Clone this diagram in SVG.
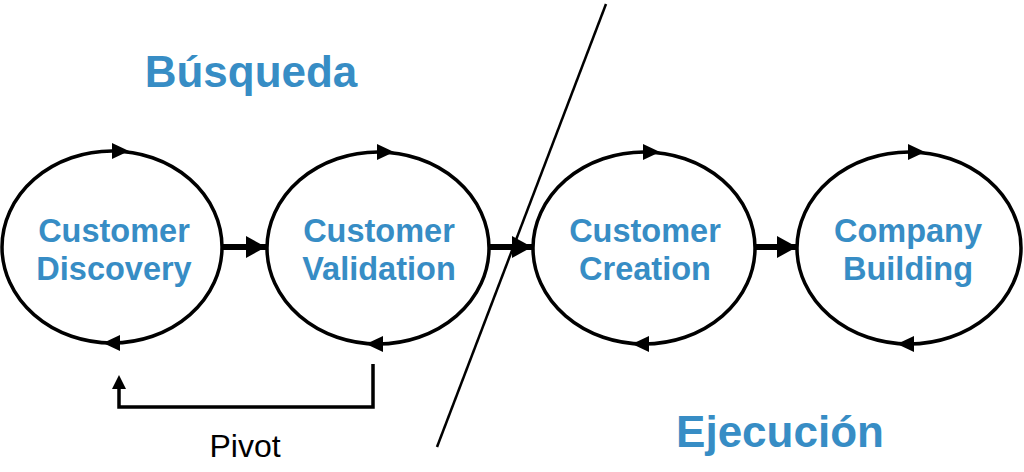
<svg xmlns="http://www.w3.org/2000/svg" xmlns:xlink="http://www.w3.org/1999/xlink" width="1024" height="472" viewBox="0 0 1024 472">
<style>
.node ellipse{fill:#fff;stroke:#000;stroke-width:3.5}
.lbl{font-family:"Liberation Sans",Arial,sans-serif;font-weight:bold;font-size:32.5px;fill:#378dc5;text-anchor:middle}
.title{font-family:"Liberation Sans",Arial,sans-serif;font-weight:bold;font-size:44px;fill:#378dc5;text-anchor:middle}
.conn{fill:none;stroke:#000}
</style>
<defs>
<polygon id="hr" points="0,0 -17,-8 -17,8" fill="#000"/>
<polygon id="hl" points="0,0 17,-8 17,8" fill="#000"/>
<marker id="big" markerUnits="userSpaceOnUse" markerWidth="22" markerHeight="24" refX="20" refY="12" orient="auto"><polygon points="0,1 20,12 0,23" fill="#000"/></marker>
</defs>
<rect width="1024" height="472" fill="#fff"/>
<g id="titles">
<text class="title" x="251" y="87">Búsqueda</text>
<text class="title" x="780" y="447">Ejecución</text>
</g>
<g id="connectors">
<line class="conn" x1="222" y1="247" x2="266" y2="247" stroke-width="6" marker-end="url(#big)"/>
<line class="conn" x1="489" y1="247" x2="532" y2="247" stroke-width="6" marker-end="url(#big)"/>
<line class="conn" x1="755" y1="247" x2="797" y2="247" stroke-width="6" marker-end="url(#big)"/>
<path class="conn" d="M373,364 V407 H119 V380" stroke-width="3.5"/>
<polygon points="119,375 112,389 126,389" fill="#000"/>
</g>
<g id="node-discovery" class="node">
<ellipse cx="112" cy="247" rx="110" ry="96"/>
<use xlink:href="#hr" x="129" y="151"/>
<use xlink:href="#hl" x="103" y="343"/>
<text class="lbl" x="114" y="242">Customer</text>
<text class="lbl" x="114" y="280">Discovery</text>
</g>
<g id="node-validation" class="node">
<ellipse cx="378" cy="248" rx="111" ry="96"/>
<use xlink:href="#hr" x="394" y="152"/>
<use xlink:href="#hl" x="366" y="344"/>
<text class="lbl" x="379" y="242">Customer</text>
<text class="lbl" x="379" y="280">Validation</text>
</g>
<g id="node-creation" class="node">
<ellipse cx="644" cy="248" rx="111" ry="96"/>
<use xlink:href="#hr" x="660" y="152"/>
<use xlink:href="#hl" x="632" y="344"/>
<text class="lbl" x="645" y="242">Customer</text>
<text class="lbl" x="645" y="280">Creation</text>
</g>
<g id="node-building" class="node">
<ellipse cx="909" cy="248" rx="112" ry="96"/>
<use xlink:href="#hr" x="925" y="152"/>
<use xlink:href="#hl" x="897" y="344"/>
<text class="lbl" x="908" y="242">Company</text>
<text class="lbl" x="908" y="280">Building</text>
</g>
<g id="divider">
<line x1="606" y1="4" x2="437" y2="447" stroke="#000" stroke-width="2.5"/>
</g>
<text x="245" y="457" font-family="'Liberation Sans',Arial,sans-serif" font-size="32" fill="#000" text-anchor="middle">Pivot</text>
</svg>
